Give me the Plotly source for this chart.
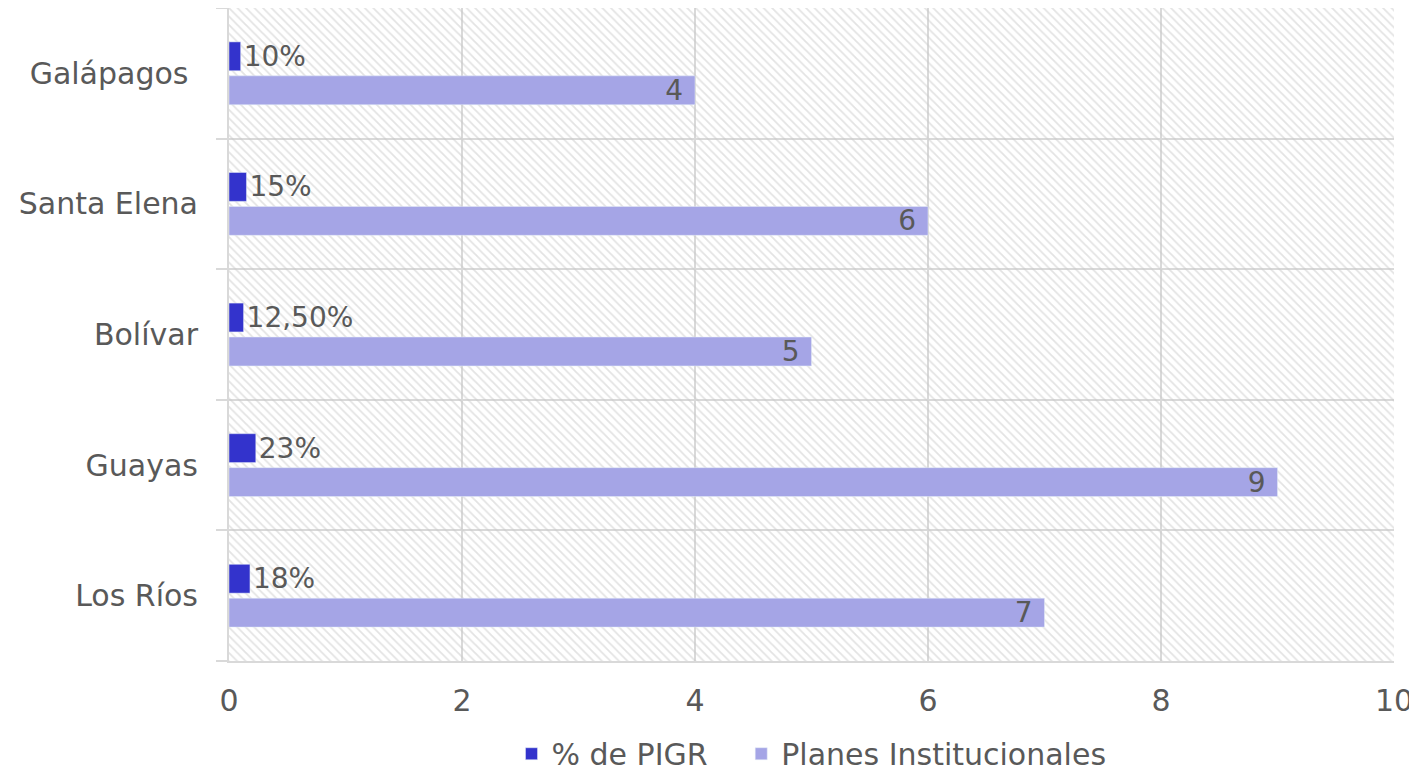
import plotly.graph_objects as go

provincias = ["Los Ríos", "Guayas", "Bolívar", "Santa Elena", "Galápagos\u00a0"]
pct_pigr = [0.18, 0.23, 0.125, 0.15, 0.10]
pct_labels = ["18%", "23%", "12,50%", "15%", "10%"]
planes = [7, 9, 5, 6, 4]
x_ticks = [0, 2, 4, 6, 8, 10]

FONT = "'DejaVu Sans', sans-serif"
GREY = "#595959"
GRID = "#d9d9d9"
SIZE = 30
LABEL_SIZE = 28

fig = go.Figure()

# hatched plot background, on the hidden base axes
fig.add_trace(go.Scatter(
    x=[0, 1, 1, 0, 0], y=[0, 0, 1, 1, 0],
    mode="none", fill="toself",
    fillpattern=dict(shape="\\", fgcolor="#c8c8c8", bgcolor="rgba(0,0,0,0)",
                     size=6, solidity=0.3),
    xaxis="x", yaxis="y", showlegend=False, hoverinfo="skip",
))

fig.add_trace(go.Bar(
    y=provincias, x=planes, orientation="h", name="Planes Institucionales",
    marker_color="#a5a5e6", text=[f"{v}\u00a0" for v in planes],
    textposition="inside", insidetextanchor="end", textangle=0,
    constraintext="none",
    textfont=dict(color=GREY, size=LABEL_SIZE, family=FONT),
    xaxis="x2", yaxis="y2",
))
fig.add_trace(go.Bar(
    y=provincias, x=pct_pigr, orientation="h",
    name="% de PIGR\u00a0\u00a0\u00a0",  # extra room between legend entries
    marker_color="#3333cc", text=pct_labels, textposition="outside",
    textangle=0, constraintext="none",
    textfont=dict(color=GREY, size=LABEL_SIZE, family=FONT), cliponaxis=False,
    xaxis="x2", yaxis="y2",
))

# page body has an 8px margin, so the figure is drawn 8px in from the corner
fig.update_layout(
    width=1409, height=770,
    margin=dict(l=221, r=23, t=0, b=117, autoexpand=False),
    paper_bgcolor="white", plot_bgcolor="white",
    barmode="group", bargap=0.48, bargroupgap=0.15,
    font=dict(family=FONT, color=GREY, size=SIZE),
    showlegend=True,
    legend=dict(orientation="h", x=0.5, xanchor="center", y=-0.142, yanchor="middle",
                traceorder="reversed", font=dict(size=SIZE, color=GREY)),
    xaxis=dict(range=[0, 1], visible=False, fixedrange=True),
    yaxis=dict(range=[0, 1], visible=False, fixedrange=True),
    xaxis2=dict(overlaying="x", anchor="y2", side="bottom", range=[0, 10],
                tickvals=x_ticks, showgrid=True, gridcolor=GRID, gridwidth=2,
                showline=True, linecolor=GRID, linewidth=2, zeroline=False,
                ticks="", ticklabelstandoff=12, tickfont=dict(size=SIZE, color=GREY)),
    yaxis2=dict(overlaying="y", anchor="x2", side="left", type="category",
                categoryorder="array", categoryarray=provincias,
                tickson="boundaries", ticks="outside", ticklen=11, tickcolor=GRID,
                tickwidth=2, showgrid=True, gridcolor=GRID, gridwidth=2,
                showline=True, linecolor=GRID, linewidth=2,
                ticklabelstandoff=23, tickfont=dict(size=SIZE, color=GREY)),
)

fig.write_html("out.html")
